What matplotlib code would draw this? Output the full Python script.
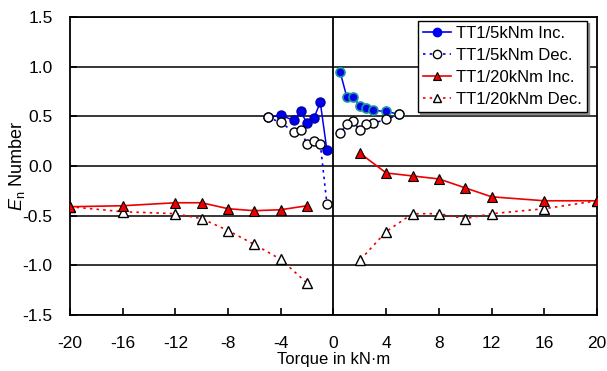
import numpy as np
import matplotlib
matplotlib.use("Agg")
import matplotlib.pyplot as plt
from matplotlib.lines import Line2D

plt.rcParams['font.family'] = ['Liberation Sans', 'DejaVu Sans']
plt.rcParams['mathtext.fontset'] = 'custom'
plt.rcParams['mathtext.rm'] = 'Liberation Sans'
plt.rcParams['mathtext.it'] = 'Liberation Sans:italic'

# TT1/5kNm increasing (left branch, right branch)
inc5_left_x = [-0.5, -1, -1.5, -2, -2.5, -3, -4, -5]
inc5_left_y = [0.16, 0.64, 0.48, 0.43, 0.55, 0.46, 0.51, 0.49]
inc5_right_x = [0.5, 1, 1.5, 2, 2.5, 3, 4, 5]
inc5_right_y = [0.95, 0.70, 0.70, 0.60, 0.58, 0.56, 0.55, 0.52]

# TT1/5kNm decreasing
dec5_left_x = [-5, -4, -3, -2.5, -2, -1.5, -1, -0.5]
dec5_left_y = [0.49, 0.44, 0.34, 0.36, 0.22, 0.25, 0.22, -0.38]
dec5_right_x = [5, 4, 3, 2.5, 2, 1.5, 1, 0.5]
dec5_right_y = [0.52, 0.47, 0.43, 0.42, 0.36, 0.45, 0.42, 0.33]

# TT1/20kNm increasing
inc20_left_x = [-2, -4, -6, -8, -10, -12, -16, -20]
inc20_left_y = [-0.40, -0.44, -0.45, -0.43, -0.37, -0.37, -0.40, -0.41]
inc20_right_x = [2, 4, 6, 8, 10, 12, 16, 20]
inc20_right_y = [0.13, -0.07, -0.10, -0.13, -0.22, -0.31, -0.35, -0.35]

# TT1/20kNm decreasing
dec20_left_x = [-20, -16, -12, -10, -8, -6, -4, -2]
dec20_left_y = [-0.41, -0.46, -0.48, -0.53, -0.65, -0.79, -0.94, -1.18]
dec20_right_x = [20, 16, 12, 10, 8, 6, 4, 2]
dec20_right_y = [-0.35, -0.43, -0.48, -0.53, -0.48, -0.48, -0.66, -0.95]

xticks = [-20, -16, -12, -8, -4, 0, 4, 8, 12, 16, 20]
yticks = [-1.5, -1.0, -0.5, 0.0, 0.5, 1.0, 1.5]

fig = plt.figure(figsize=(6.07, 3.71), dpi=100)
ax = fig.add_axes([0.1153, 0.151, 0.8682, 0.803])

for y in yticks:
    ax.axhline(y, color='black', lw=1.1, zorder=1)
ax.axvline(0, color='black', lw=1.3, zorder=1)

blue = '#0000ee'
red = '#ee0000'
dots = (0, (1.5, 2.5))

def join(a, b):
    return list(a) + [np.nan] + list(b)

# 20 kNm dec
ax.plot(join(dec20_left_x, dec20_right_x), join(dec20_left_y, dec20_right_y),
        ls=dots, color=red, lw=1.2, marker='^', ms=7,
        mfc='white', mec='black', mew=1.0, zorder=3)
# 20 kNm inc
ax.plot(join(inc20_left_x, inc20_right_x), join(inc20_left_y, inc20_right_y),
        ls='-', color=red, lw=1.2, marker='^', ms=7,
        mfc=red, mec='black', mew=0.8, zorder=4)

# 5 kNm inc
ax.plot(inc5_left_x, inc5_left_y, ls='-', color=blue, lw=1.1, marker='o', ms=6.5,
        mfc=blue, mec='#0000aa', zorder=5)
ax.plot(inc5_right_x, inc5_right_y, ls='-', color=blue, lw=1.1, marker='o', ms=6.5,
        mfc=blue, mec='#1a9a9a', mew=1.2, zorder=5)
# 5 kNm dec
ax.plot(join(dec5_left_x, dec5_right_x), join(dec5_left_y, dec5_right_y),
        ls=dots, color=blue, lw=1.2, marker='o', ms=6.5,
        mfc='white', mec='black', mew=1.0, zorder=6)

handles = [
    Line2D([], [], color=blue, lw=1.2, marker='o', ms=6, mfc=blue, mec=blue),
    Line2D([], [], color=blue, lw=1.2, ls=dots, marker='o', ms=6, mfc='white', mec='black'),
    Line2D([], [], color=red, lw=1.2, marker='^', ms=6, mfc=red, mec='black', mew=0.8),
    Line2D([], [], color=red, lw=1.2, ls=dots, marker='^', ms=6, mfc='white', mec='black'),
]
labels = ['TT1/5kNm Inc.', 'TT1/5kNm Dec.', 'TT1/20kNm Inc.', 'TT1/20kNm Dec.']
leg = ax.legend(handles, labels, loc='upper right', bbox_to_anchor=(0.981, 0.986),
                fontsize=12, frameon=True, fancybox=False,
                shadow={'color': '0.55', 'alpha': 1.0, 'ox': 1.5, 'oy': -1.5},
                borderpad=0.3, labelspacing=0.42, handlelength=1.7, handletextpad=0.3,
                borderaxespad=0.0)
leg.get_frame().set_edgecolor('black')
leg.get_frame().set_linewidth(1.0)
leg.set_zorder(10)

ax.set_xlim(-20, 20)
ax.set_ylim(-1.5, 1.5)
ax.set_xticks(xticks)
ax.set_xticklabels([str(t) for t in xticks])
ax.set_yticks(yticks)
ax.set_yticklabels(['%.1f' % t for t in yticks])
ax.tick_params(direction='in', length=5, width=1.2, labelsize=12.5)
ax.tick_params(axis='x', pad=15)
ax.tick_params(axis='y', pad=12.5)
for s in ax.spines.values():
    s.set_linewidth(1.3)

ax.set_xlabel('Torque in kN\u00b7m', fontsize=12)
ax.set_ylabel(r'$\mathit{E}_\mathrm{n}$ Number', fontsize=13)
ax.xaxis.set_label_coords(0.5, -0.125)
ax.yaxis.set_label_coords(-0.082, 0.5)

fig.savefig('out.png', dpi=100)
